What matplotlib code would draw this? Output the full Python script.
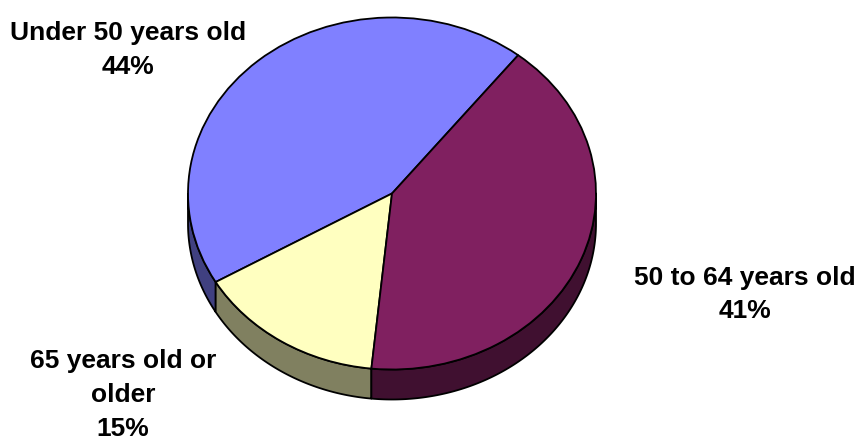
import numpy as np
import matplotlib
matplotlib.use("Agg")
import matplotlib.pyplot as plt
from matplotlib.patches import Wedge, Polygon

categories = ["Under 50 years old", "65 years old or\nolder", "50 to 64 years old"]
values = [44, 15, 41]
top_colors = ["#8080FF", "#FFFFC0", "#802060"]
side_colors = ["#404080", "#808060", "#401030"]
label_px = [(128, 50), (123, 395), (745, 294.5)]

W, H = 858, 436
CX, CY, RX, RY, DEPTH = 392, 193.5, 204, 176, 30
START = 51.8
LW = 1.3

fig = plt.figure(figsize=(W / 100, H / 100), dpi=100)
ax = fig.add_axes([0, 0, 1, 1])
ax.set_xlim(-CX / RX, (W - CX) / RX)
ax.set_ylim(-(H - CY) / RY, CY / RY)
ax.axis("off")
d = DEPTH / RY

angle = START
for v, tc, sc in zip(values, top_colors, side_colors):
    end = angle + v * 3.6
    lo, hi = max(angle, 180), min(end, 360)
    if hi > lo:
        t = np.radians(np.linspace(lo, hi, 200))
        xs, ys = np.cos(t), np.sin(t)
        pts = np.r_[np.c_[xs, ys], np.c_[xs[::-1], ys[::-1] - d]]
        ax.add_patch(Polygon(pts, closed=True, fc=sc, ec="black", lw=LW, joinstyle="round", zorder=1))
    ax.add_patch(Wedge((0, 0), 1, angle, end, fc=tc, ec="black", lw=LW, joinstyle="round", zorder=2))
    angle = end

for cat, v, (px, py) in zip(categories, values, label_px):
    fig.text(px / W, 1 - py / H, f"{cat}\n{v}%", ha="center", va="center",
             family="Liberation Sans", fontweight="bold", fontsize=19,
             linespacing=1.52, color="black")

fig.savefig("out.png", dpi=100)
